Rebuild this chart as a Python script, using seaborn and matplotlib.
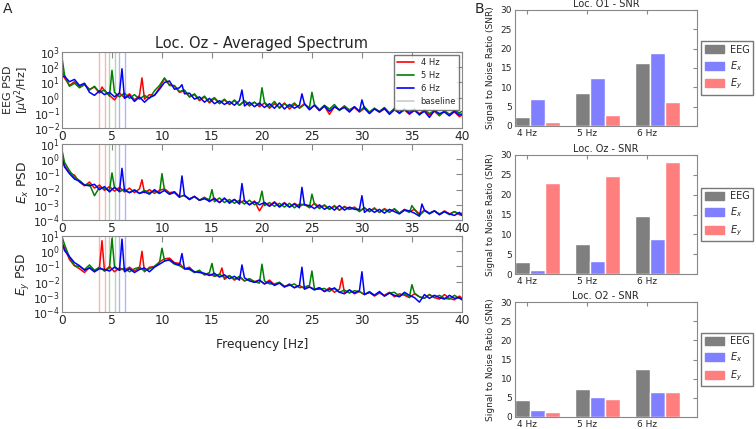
import matplotlib
matplotlib.use("Agg")
import matplotlib.pyplot as plt
import matplotlib.ticker as ticker
from matplotlib.lines import Line2D
from matplotlib.patches import Patch
import numpy as np
import pandas as pd
import seaborn as sns

# frequency grid of the spectra [Hz]: 0, 0.25, 0.75, ... 39.75, 40
FREQS = [0.0] + [0.25 + 0.5 * k for k in range(80)] + [40.0]

# ---- log10 PSD, EEG (top panel) ----
EEG_4HZ = [1.9, 1.3, 0.8, 1.05, 0.7, 0.9, 0.55, 0.7, 0.3, 0.45,
           0.15, -0.15, 0.3, 0.0, 0.25, -0.15, 0.15, -0.1, 0.2, 0.15,
           0.65, 1.25, 0.85, 0.75, 0.35, 0.45, 0.05, 0.2, -0.2, 0.05,
           -0.35, -0.05, -0.4, -0.15, -0.45, -0.2, -0.5, -0.25, -0.55, -0.3,
           -0.6, -0.35, -0.7, -0.4, -0.65, -0.35, -0.75, -0.45, -0.65, -0.4,
           -0.75, -0.5, -0.85, -0.55, -1.1, -0.6, -0.8, -0.55, -0.9, -0.65,
           -0.95, -0.7, -1.0, -0.7, -0.95, -0.75, -1.05, -0.7, -1.0, -0.8,
           -1.1, -0.8, -1.05, -0.85, -1.15, -0.9, -1.2, -0.85, -1.1, -0.95,
           -1.25, -1.15]
EEG_4HZ_PEAKS = [(4.0, 0.7), (8.0, 1.3)]

EEG_5HZ = [2.65, 1.5, 0.75, 0.95, 0.65, 0.85, 0.5, 0.75, 0.35, 0.5,
           0.1, 0.35, 0.05, 0.3, -0.05, 0.2, -0.1, 0.15, -0.05, 0.45,
           0.8, 1.3, 0.8, 0.8, 0.4, 0.5, 0.05, 0.25, -0.15, 0.1,
           -0.3, 0.0, -0.35, -0.1, -0.45, -0.15, -0.5, -0.2, -0.45, -0.3,
           -0.55, -0.3, -0.6, -0.25, -0.7, -0.4, -0.6, -0.35, -0.7, -0.45,
           -0.65, -0.45, -0.8, -0.5, -0.75, -0.45, -0.85, -0.55, -0.8, -0.6,
           -0.9, -0.6, -0.95, -0.7, -0.9, -0.65, -1.0, -0.75, -1.05, -0.8,
           -0.95, -0.75, -1.15, -0.8, -1.05, -0.85, -1.15, -0.9, -1.1, -0.85,
           -1.0, -0.9]
EEG_5HZ_PEAKS = [(5.0, 1.8), (15.0, -0.1), (20.0, 0.65), (25.0, 0.35)]

EEG_6HZ = [1.35, 1.4, 1.05, 1.2, 0.8, 0.95, 0.35, 0.15, 0.45, 0.2,
           0.35, 0.05, 0.3, -0.05, 0.15, -0.25, 0.05, -0.3, 0.0, 0.15,
           0.55, 1.0, 1.1, 0.55, 0.65, 0.25, 0.3, -0.1, 0.05, -0.3,
           -0.05, -0.4, -0.2, -0.45, -0.25, -0.5, -0.2, -0.55, -0.3, -0.6,
           -0.35, -0.65, -0.4, -0.7, -0.35, -0.75, -0.45, -0.7, -0.5, -0.4,
           -0.8, -0.5, -0.85, -0.55, -0.9, -0.6, -0.8, -0.65, -0.95, -0.6,
           -0.9, -0.7, -1.05, -0.75, -0.95, -0.7, -1.1, -0.8, -1.0, -0.75,
           -1.05, -0.85, -1.1, -0.9, -1.3, -0.85, -1.05, -0.95, -1.2, -0.9,
           -1.15, -1.1]
EEG_6HZ_PEAKS = [(6.0, 1.9), (12.0, 0.85), (18.0, 0.5), (24.0, 0.25), (30.0, -0.15)]

# ---- log10 PSD, Ex (middle panel) ----
EX_4HZ = [0.4, -0.4, -0.9, -1.05, -1.5, -1.75, -1.5, -1.9, -1.7, -2.05,
          -1.8, -2.1, -1.85, -2.15, -1.9, -2.2, -1.95, -2.2, -2.0, -2.25,
          -2.05, -1.95, -2.2, -2.15, -2.45, -2.4, -2.6, -2.45, -2.7, -2.5,
          -2.8, -2.55, -2.85, -2.6, -2.8, -2.65, -2.9, -2.7, -3.0, -2.75,
          -3.4, -2.85, -3.05, -2.8, -3.1, -2.85, -3.15, -2.9, -3.1, -2.95,
          -3.2, -2.9, -3.15, -3.05, -3.3, -3.05, -3.35, -3.1, -3.3, -3.15,
          -3.4, -3.2, -3.45, -3.2, -3.5, -3.25, -3.45, -3.3, -3.55, -3.3,
          -3.45, -3.3, -3.6, -3.35, -3.55, -3.4, -3.65, -3.4, -3.6, -3.45,
          -3.65, -3.7]
EX_4HZ_PEAKS = [(8.0, -1.35)]

EX_5HZ = [0.6, -0.2, -0.75, -1.2, -1.4, -1.7, -1.65, -2.4, -1.85, -1.95,
          -2.05, -1.85, -2.15, -1.95, -2.2, -2.0, -2.25, -2.05, -2.2, -2.1,
          -2.25, -2.05, -2.3, -2.2, -2.5, -2.35, -2.65, -2.45, -2.7, -2.55,
          -2.65, -2.8, -2.55, -2.85, -2.65, -2.9, -2.7, -2.95, -2.7, -3.0,
          -2.8, -3.05, -2.85, -3.1, -2.9, -3.15, -2.9, -3.2, -2.95, -3.0,
          -3.15, -2.95, -3.25, -3.0, -3.3, -3.1, -3.35, -3.15, -3.3, -3.2,
          -3.45, -3.2, -3.45, -3.25, -3.5, -3.3, -3.5, -3.25, -3.55, -3.35,
          -3.5, -3.3, -3.7, -3.4, -3.55, -3.4, -3.6, -3.45, -3.65, -3.45,
          -3.6, -3.55]
EX_5HZ_PEAKS = [(5.0, -0.9), (10.0, -0.95), (15.0, -2.0), (20.0, -2.1),
                (25.0, -2.3), (35.0, -3.05)]

EX_6HZ = [0.05, -0.5, -0.95, -1.3, -1.45, -1.7, -1.75, -1.65, -2.0, -1.8,
          -2.15, -1.85, -2.1, -2.05, -2.2, -2.05, -2.25, -2.15, -2.3, -2.0,
          -2.25, -2.05, -2.3, -2.15, -2.5, -2.4, -2.65, -2.45, -2.7, -2.6,
          -2.75, -2.6, -2.85, -2.55, -2.9, -2.65, -2.95, -2.75, -3.0, -2.8,
          -3.0, -2.85, -3.1, -2.85, -3.15, -2.9, -3.15, -2.95, -3.2, -3.0,
          -3.05, -3.25, -3.0, -3.3, -3.1, -3.35, -3.05, -3.35, -3.15, -3.3,
          -3.3, -3.5, -3.25, -3.5, -3.3, -3.55, -3.3, -3.45, -3.6, -3.35,
          -3.4, -3.55, -3.75, -3.35, -3.6, -3.4, -3.65, -3.45, -3.6, -3.7,
          -3.5, -3.7]
EX_6HZ_PEAKS = [(6.0, -0.6), (12.0, -1.1), (18.0, -1.6), (24.0, -1.85),
                (30.0, -2.4), (36.0, -2.95)]

# ---- log10 PSD, Ey (bottom panel) ----
EY_4HZ = [0.5, 0.25, -0.55, -0.95, -1.15, -1.4, -1.05, -1.35, -1.05, -1.3,
          -1.0, -1.35, -1.1, -1.25, -1.05, -1.3, -1.1, -1.35, -1.05, -1.0,
          -0.7, -0.5, -0.45, -0.75, -0.8, -1.15, -1.05, -1.4, -1.3, -1.55,
          -1.5, -1.65, -1.55, -1.85, -1.6, -1.9, -1.7, -1.95, -1.85, -2.0,
          -1.9, -2.15, -1.9, -2.2, -2.05, -2.35, -2.15, -2.4, -2.25, -2.45,
          -2.35, -2.5, -2.4, -2.65, -2.4, -2.7, -2.5, -2.75, -2.55, -2.8,
          -2.65, -2.85, -2.7, -2.95, -2.75, -2.9, -2.7, -3.0, -2.8, -2.9,
          -3.05, -2.8, -3.0, -3.1, -2.85, -3.05, -3.15, -2.85, -3.1, -3.2,
          -2.95, -3.1]
EY_4HZ_PEAKS = [(4.0, 0.7), (8.0, 0.0), (16.0, -1.1), (28.0, -1.75)]

EY_5HZ = [0.95, 0.45, -0.4, -0.95, -1.0, -1.2, -0.9, -1.25, -1.05, -1.3,
          -1.1, -1.0, -1.25, -1.1, -1.35, -1.15, -1.05, -1.3, -1.15, -1.0,
          -0.75, -0.6, -0.6, -0.85, -0.95, -1.15, -1.2, -1.4, -1.25, -1.55,
          -1.4, -1.65, -1.5, -1.75, -1.6, -1.85, -1.65, -1.95, -1.8, -2.0,
          -2.1, -1.95, -2.15, -2.15, -2.05, -2.3, -2.25, -2.15, -2.4, -2.35,
          -2.25, -2.5, -2.5, -2.45, -2.65, -2.4, -2.7, -2.55, -2.75, -2.6,
          -2.65, -2.85, -2.65, -2.9, -2.7, -2.95, -2.75, -2.7, -2.95, -2.8,
          -3.0, -2.75, -3.0, -3.1, -2.85, -3.05, -2.9, -3.1, -3.15, -2.9,
          -3.1, -3.15]
EY_5HZ_PEAKS = [(5.0, 0.85), (10.0, 0.2), (15.0, -0.8), (20.0, -0.85),
                (25.0, -1.3), (35.0, -2.2)]

EY_6HZ = [0.6, 0.05, -0.35, -0.75, -0.95, -1.25, -1.1, -1.35, -1.15, -1.2,
          -1.3, -1.05, -1.25, -1.35, -1.15, -1.4, -1.2, -1.1, -1.35, -1.05,
          -0.85, -0.65, -0.55, -0.8, -0.9, -1.15, -1.15, -1.35, -1.4, -1.45,
          -1.6, -1.45, -1.7, -1.55, -1.8, -1.65, -1.9, -1.75, -1.95, -2.05,
          -1.9, -2.15, -2.0, -2.25, -2.1, -2.35, -2.2, -2.4, -2.25, -2.5,
          -2.35, -2.55, -2.4, -2.65, -2.5, -2.45, -2.7, -2.8, -2.55, -2.75,
          -2.6, -2.85, -2.7, -2.9, -2.65, -2.95, -2.75, -2.9, -3.0, -2.7,
          -2.9, -3.05, -3.35, -2.85, -3.1, -2.9, -3.05, -3.15, -2.9, -3.1,
          -3.05, -3.2]
EY_6HZ_PEAKS = [(6.0, 0.8), (12.0, -0.15), (18.0, -0.9), (24.0, -1.05), (30.0, -1.35)]

# stimulation windows marked on the spectra [Hz]
STIM_WINDOWS = [(3.7, 4.3), (4.7, 5.3), (5.7, 6.3)]
STIM_LABELS = ['4 Hz', '5 Hz', '6 Hz']

# ---- SNR bars ----
SIGNALS = ['EEG', '$E_x$', '$E_y$']
O1_EEG = [2.2, 8.5, 16.2]
O1_EX = [7.1, 12.4, 18.9]
O1_EY = [1.0, 2.9, 6.2]
OZ_EEG = [2.9, 7.6, 14.6]
OZ_EX = [1.0, 3.3, 8.9]
OZ_EY = [22.9, 24.7, 28.2]
O2_EEG = [4.4, 7.4, 12.5]
O2_EX = [1.7, 5.1, 6.5]
O2_EY = [1.3, 4.6, 6.4]

LINE_COLORS = ['#ff0000', '#008000', '#0000ff']
BAR_COLORS = ['#7f7f7f', '#7f7fff', '#ff7f7f']


def spectrum_frame(values, peaks, label):
    f = FREQS + [p[0] for p in peaks]
    v = values + [p[1] for p in peaks]
    df = pd.DataFrame({'Frequency': f, 'PSD': np.power(10.0, v), 'Stim': label})
    return df.sort_values('Frequency')


def style_axis(ax):
    for s in ax.spines.values():
        s.set_color('#888888')
    ax.tick_params(direction='in', top=True, right=True, color='#888888')


def spectrum_panel(ax, series, ylim, ylabel, label_size=8.8):
    data = pd.concat([spectrum_frame(v, p, lab)
                      for (v, p), lab in zip(series, STIM_LABELS)])
    for (lo, hi), c in zip(STIM_WINDOWS, LINE_COLORS):
        ax.axvline(lo, color=c, alpha=0.3, lw=1)
        ax.axvline(hi, color=c, alpha=0.3, lw=1)
    sns.lineplot(data=data, x='Frequency', y='PSD', hue='Stim',
                 palette=LINE_COLORS, estimator=None, lw=1.1,
                 legend=False, ax=ax)
    ax.set_yscale('log')
    ax.set_ylim(*ylim)
    ax.yaxis.set_major_locator(ticker.LogLocator(base=10, numticks=10))
    ax.yaxis.set_minor_locator(ticker.NullLocator())
    ax.set_xlim(0, 40)
    ax.xaxis.set_major_locator(ticker.MultipleLocator(5))
    ax.tick_params(axis='x', labelsize=8.8, length=4, pad=1.5)
    ax.tick_params(axis='y', labelsize=7.8, length=4, pad=1.5)
    ax.set_xlabel('')
    ax.set_ylabel(ylabel, fontsize=label_size, linespacing=0.95)
    ax.yaxis.set_label_coords(-0.077, 0.5)
    style_axis(ax)


def snr_panel(ax, eeg, ex, ey, title):
    df = pd.DataFrame({
        'Stim': STIM_LABELS * 3,
        'Signal': [s for s in SIGNALS for _ in range(3)],
        'SNR': eeg + ex + ey,
    })
    sns.barplot(data=df, x='Stim', y='SNR', hue='Signal', palette=BAR_COLORS,
                width=0.75, saturation=1, errorbar=None, legend=False, ax=ax)
    ax.set_xlim(-0.375, 2.65)
    ax.set_xticks([-0.175, 0.825, 1.825])
    ax.set_xticklabels(STIM_LABELS)
    ax.set_ylim(0, 30)
    ax.set_yticks(range(0, 31, 5))
    ax.tick_params(labelsize=6.5, length=3, pad=2)
    ax.set_xlabel('')
    ax.set_ylabel('Signal to Noise Ratio (SNR)', fontsize=6.5, labelpad=4)
    ax.set_title(title, fontsize=7, pad=2)
    style_axis(ax)
    handles = [Patch(color=c, label=s) for c, s in zip(BAR_COLORS, SIGNALS)]
    ax.legend(handles=handles, loc='center left', bbox_to_anchor=(1.025, 0.5),
              fontsize=7, fancybox=False, edgecolor='#555555',
              borderaxespad=0, borderpad=0.35, handlelength=2.0,
              handleheight=0.9, handletextpad=0.6, labelspacing=0.45)


sns.set_style('white')
plt.rcParams['font.family'] = ['DejaVu Sans']

fig = plt.figure(figsize=(7.56, 4.29), dpi=100)

ax1 = fig.add_axes([0.082, 0.7016, 0.529, 0.177])
ax2 = fig.add_axes([0.082, 0.4872, 0.529, 0.177])
ax3 = fig.add_axes([0.082, 0.2727, 0.529, 0.177])

spectrum_panel(ax1, [(EEG_4HZ, EEG_4HZ_PEAKS), (EEG_5HZ, EEG_5HZ_PEAKS),
                     (EEG_6HZ, EEG_6HZ_PEAKS)], (1e-2, 1e3),
               'EEG PSD\n[$\\mu$V$^2$/Hz]', label_size=8)
spectrum_panel(ax2, [(EX_4HZ, EX_4HZ_PEAKS), (EX_5HZ, EX_5HZ_PEAKS),
                     (EX_6HZ, EX_6HZ_PEAKS)], (1e-4, 1e1), '$E_x$ PSD')
spectrum_panel(ax3, [(EY_4HZ, EY_4HZ_PEAKS), (EY_5HZ, EY_5HZ_PEAKS),
                     (EY_6HZ, EY_6HZ_PEAKS)], (1e-4, 1e1), '$E_y$ PSD')
ax1.set_title('Loc. Oz - Averaged Spectrum', fontsize=10.5, pad=3)
ax3.set_xlabel('Frequency [Hz]', fontsize=8.8, labelpad=8)

leg_handles = [Line2D([], [], color=c, lw=1.2) for c in LINE_COLORS]
leg_handles.append(Line2D([], [], color='#cccccc', lw=1.2))
ax1.legend(leg_handles, STIM_LABELS + ['baseline'], loc='upper right',
           fontsize=6, fancybox=False, edgecolor='#555555',
           borderaxespad=0.3, handlelength=2.0)

bx1 = fig.add_axes([0.681, 0.7063, 0.2407, 0.2704])
bx2 = fig.add_axes([0.681, 0.3613, 0.2407, 0.2774])
bx3 = fig.add_axes([0.681, 0.028, 0.2407, 0.268])
snr_panel(bx1, O1_EEG, O1_EX, O1_EY, 'Loc. O1 - SNR')
snr_panel(bx2, OZ_EEG, OZ_EX, OZ_EY, 'Loc. Oz - SNR')
snr_panel(bx3, O2_EEG, O2_EX, O2_EY, 'Loc. O2 - SNR')

fig.text(0.004, 0.995, 'A', fontsize=10, va='top', ha='left')
fig.text(0.628, 0.995, 'B', fontsize=10, va='top', ha='left')

fig.savefig('out.png', dpi=100)
